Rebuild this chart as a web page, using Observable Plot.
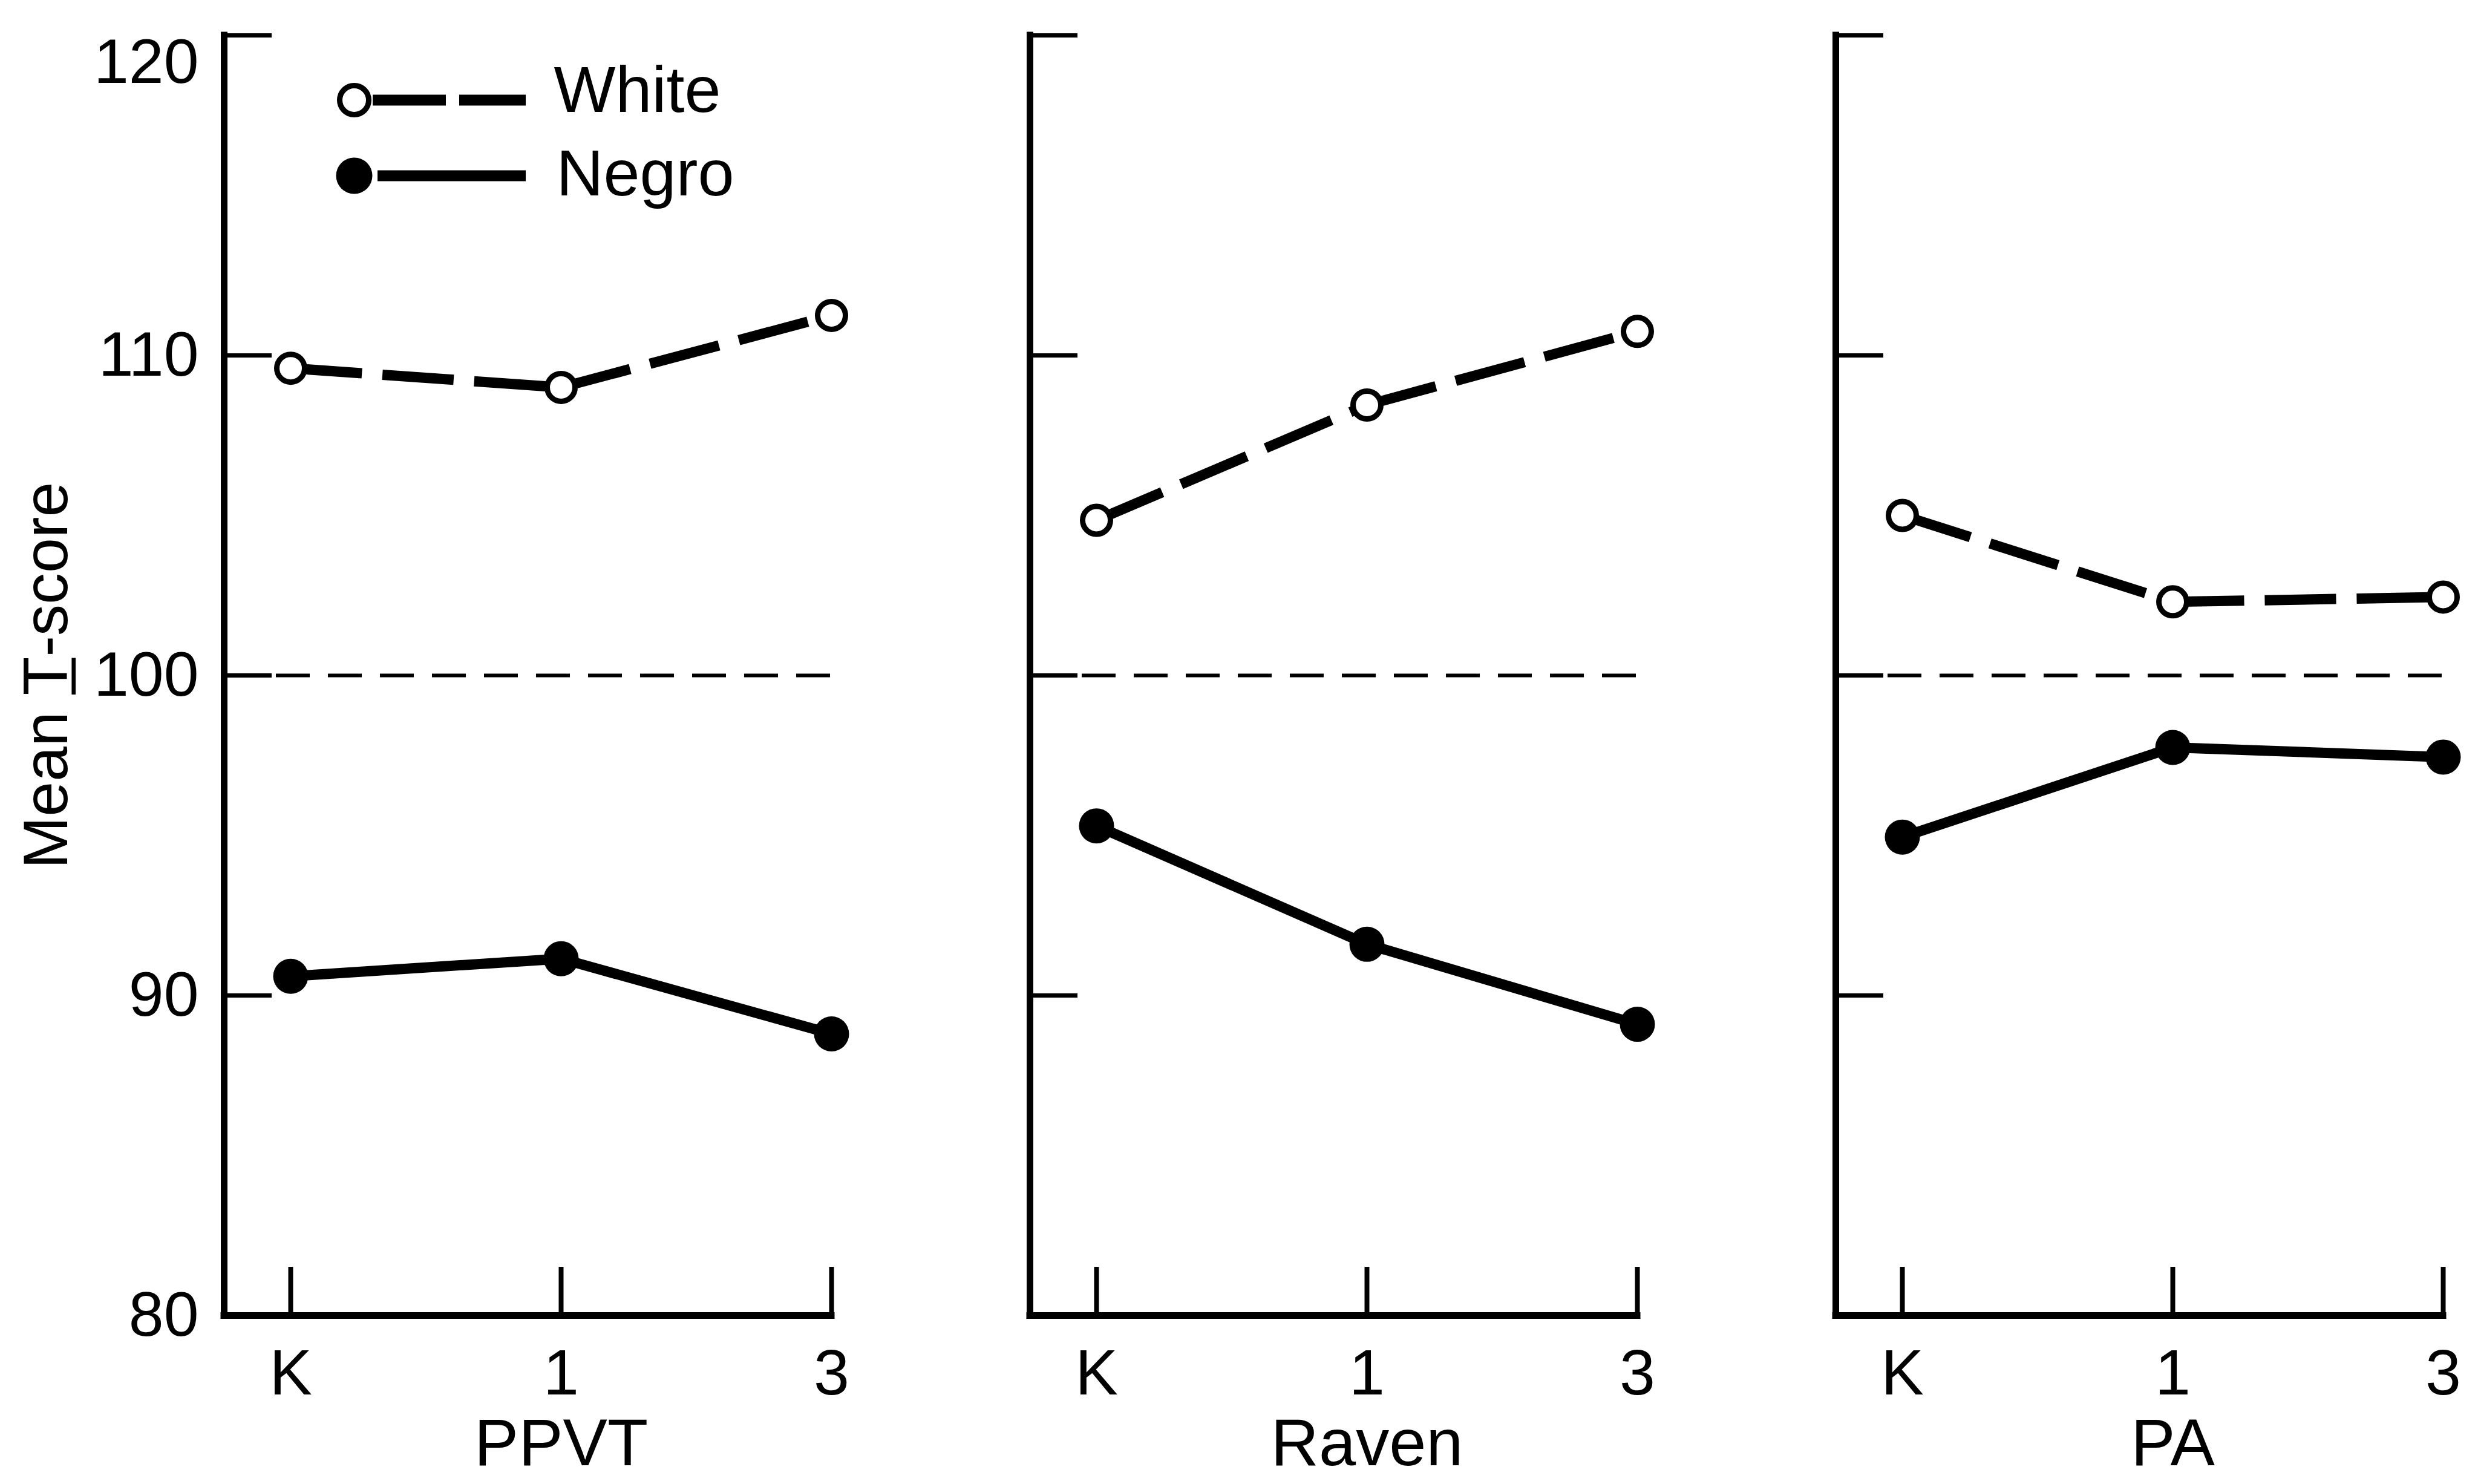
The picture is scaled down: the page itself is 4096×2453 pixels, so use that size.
<!DOCTYPE html>
<html>
<head>
<meta charset="utf-8">
<script src="https://cdn.jsdelivr.net/npm/d3@7"></script>
<script src="https://cdn.jsdelivr.net/npm/@observablehq/plot@0.6"></script>
<style>
  html, body { margin: 0; padding: 0; background: #fff; }
  #chart { width: 4096px; height: 2453px; overflow: hidden; }
</style>
</head>
<body>
<div id="chart"></div>
<script>
// ---------------- data ----------------
const tests = ["PPVT", "Raven", "PA"];
const grades = ["K", "1", "3"];
const seriesNames = ["White", "Negro"];
const ppvtWhite = [109.6, 109.0, 111.25];
const ppvtNegro = [90.6, 91.15, 88.8];
const ravenWhite = [104.85, 108.45, 110.75];
const ravenNegro = [95.3, 91.6, 89.1];
const paWhite = [105.0, 102.3, 102.45];
const paNegro = [94.95, 97.75, 97.45];
const yTicks = [80, 90, 100, 110, 120];
const referenceScore = 100;
const yTitle = "Mean T\u0332-score";

// ---------------- layout ----------------
const W = 4096, H = 2453;
const mL = 370, mR = 58, mT = 58, mB = 279;
const facetW = 1004, facetGap = 328;
const kOffset = 110;
const last = grades.length - 1;
const xMin = -last * kOffset / (facetW - kOffset);
const frameH = H - mT - mB;
const frameMid = (mT + H - mB) / 2;
const FONT = "'Liberation Sans', Arial, 'DejaVu Sans', sans-serif";
const yTickLen = 79, xTickLen = 80;

// ---------------- build rows ----------------
const bySeries = {
  White: [ppvtWhite, ravenWhite, paWhite],
  Negro: [ppvtNegro, ravenNegro, paNegro]
};
const points = [];
const segments = [];
for (const s of seriesNames) {
  bySeries[s].forEach((vals, t) => {
    vals.forEach((v, g) => {
      points.push({test: tests[t], series: s, grade: g, score: v});
      if (g < vals.length - 1) {
        segments.push({test: tests[t], series: s, g1: g, s1: v, g2: g + 1, s2: vals[g + 1]});
      }
    });
  });
}
const legendWhite = [{test: tests[0], series: "White"}];
const legendNegro = [{test: tests[0], series: "Negro"}];

const chart = Plot.plot({
  width: W,
  height: H,
  marginLeft: mL,
  marginRight: mR,
  marginTop: mT,
  marginBottom: mB,
  style: {fontFamily: FONT, background: "#fff", color: "#000", overflow: "visible"},
  fx: {domain: tests, paddingInner: facetGap / (facetW + facetGap), paddingOuter: 0, axis: null, label: null},
  x: {domain: [xMin, last], axis: null},
  y: {domain: [yTicks[0], yTicks[yTicks.length - 1]], axis: null},
  marks: [
    // dashed reference line at 100
    Plot.ruleY([referenceScore], {x1: xMin, x2: last, stroke: "#000", strokeWidth: 6, strokeDasharray: "56,30"}),
    // inward y ticks
    Plot.ruleY(yTicks.filter(v => v > yTicks[0]), {insetRight: facetW - yTickLen, stroke: "#000", strokeWidth: 7}),
    // y axis line
    Plot.ruleX([xMin], {y1: yTicks[0], y2: yTicks[yTicks.length - 1], stroke: "#000", strokeWidth: 11, strokeLinecap: "square"}),
    // x axis line
    Plot.ruleY([yTicks[0]], {x1: xMin, x2: last, stroke: "#000", strokeWidth: 11, strokeLinecap: "square"}),
    // x ticks (upward)
    Plot.ruleX(grades.map((g, i) => i), {insetTop: frameH - xTickLen, stroke: "#000", strokeWidth: 8}),
    // x tick labels
    Plot.text(grades, {x: (d, i) => i, text: d => d, frameAnchor: "bottom", dy: 55, lineAnchor: "top", fontSize: 106, fontFamily: FONT, fill: "#000"}),
    // panel titles
    Plot.text(tests, {fx: d => d, x: () => last / 2, text: d => d, frameAnchor: "bottom", dy: 212, lineAnchor: "middle", fontSize: 110, fontFamily: FONT, fill: "#000"}),
    // y tick labels (first panel only)
    Plot.text(yTicks.filter(v => v < yTicks[yTicks.length - 1]), {fx: () => tests[0], y: d => d, text: d => String(d), frameAnchor: "left", dx: -42, textAnchor: "end", lineAnchor: "middle", fontSize: 104, fontFamily: FONT, fill: "#000"}),
    Plot.text([yTicks[yTicks.length - 1]], {fx: () => tests[0], y: d => d, text: d => String(d), frameAnchor: "left", dx: -42, dy: 45, textAnchor: "end", lineAnchor: "middle", fontSize: 104, fontFamily: FONT, fill: "#000"}),
    // y title
    Plot.text([yTitle], {fx: () => tests[0], text: d => d, frameAnchor: "left", dx: -293, rotate: -90, textAnchor: "middle", lineAnchor: "middle", fontSize: 104, fontFamily: FONT, fill: "#000"}),
    // data lines
    Plot.link(segments.filter(d => d.series === "White"), {fx: "test", x1: "g1", y1: "s1", x2: "g2", y2: "s2", stroke: "#000", strokeWidth: 17, strokeDasharray: "118,34"}),
    Plot.link(segments.filter(d => d.series === "Negro"), {fx: "test", x1: "g1", y1: "s1", x2: "g2", y2: "s2", stroke: "#000", strokeWidth: 17}),
    // data points
    Plot.dot(points.filter(d => d.series === "White"), {fx: "test", x: "grade", y: "score", r: 23, fill: "#fff", stroke: "#000", strokeWidth: 9}),
    Plot.dot(points.filter(d => d.series === "Negro"), {fx: "test", x: "grade", y: "score", r: 29, fill: "#000", stroke: "none"}),
    // legend
    Plot.ruleY(legendWhite, {fx: "test", y: null, insetLeft: 246, insetRight: 505, dy: 165 - frameMid, stroke: "#000", strokeWidth: 18, strokeDasharray: "121,22"}),
    Plot.ruleY(legendNegro, {fx: "test", y: null, insetLeft: 254, insetRight: 505, dy: 290 - frameMid, stroke: "#000", strokeWidth: 18}),
    Plot.dot(legendWhite, {fx: "test", frameAnchor: "top-left", dx: 215, dy: 107, r: 24, fill: "#fff", stroke: "#000", strokeWidth: 9}),
    Plot.dot(legendNegro, {fx: "test", frameAnchor: "top-left", dx: 215, dy: 232, r: 30, fill: "#000", stroke: "none"}),
    Plot.text(legendWhite, {fx: "test", text: "series", frameAnchor: "top-left", dx: 545, dy: 92, textAnchor: "start", lineAnchor: "middle", fontSize: 108, fontFamily: FONT, fill: "#000"}),
    Plot.text(legendNegro, {fx: "test", text: "series", frameAnchor: "top-left", dx: 549, dy: 230, textAnchor: "start", lineAnchor: "middle", fontSize: 108, fontFamily: FONT, fill: "#000"})
  ]
});
document.getElementById("chart").appendChild(chart);
</script>
</body>
</html>
